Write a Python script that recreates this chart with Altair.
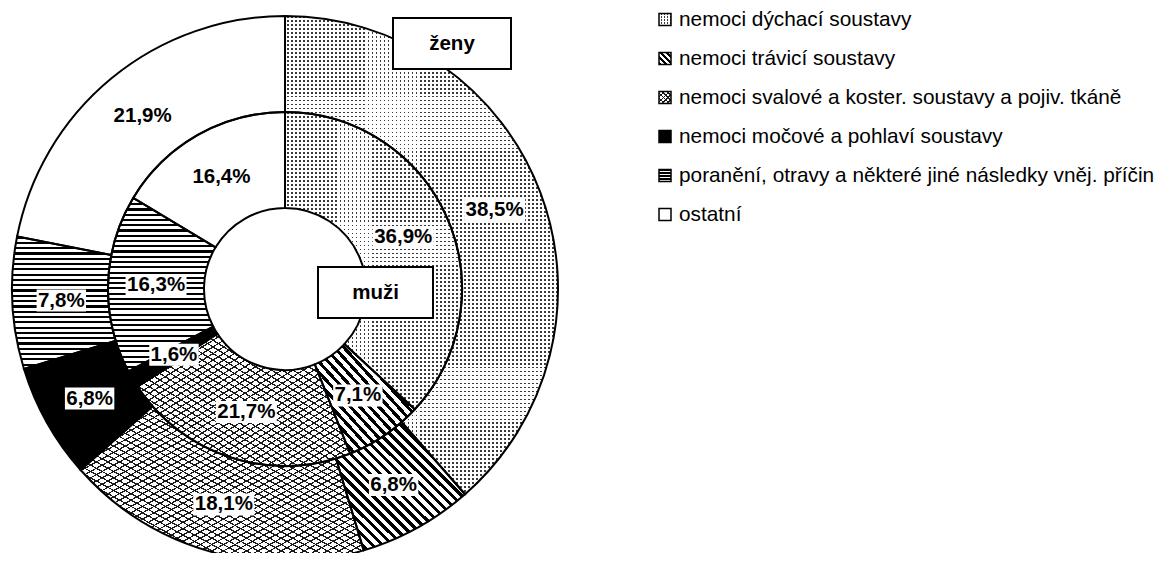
import math
import altair as alt
import pandas as pd

# ---------------- data ----------------
categories = [
    "nemoci dýchací soustavy",
    "nemoci trávicí soustavy",
    "nemoci svalové a koster. soustavy a pojiv. tkáně",
    "nemoci močové a pohlaví soustavy",
    "poranění, otravy a některé jiné následky vněj. příčin",
    "ostatní",
]
zeny = [38.5, 6.8, 18.1, 6.8, 7.8, 21.9]
muzi = [36.9, 7.1, 21.7, 1.6, 16.3, 16.4]
rings = ["ženy", "muži"]

# ---------------- layout ----------------
CX, CY = 277, 281
GEOM = {"ženy": (177, 273, 224), "muži": (81, 177, 129)}  # r0, r1, label radius
FONT = "Liberation Sans"
TR = "rgba(255,255,255,0)"

PATTERNS = [
    [("h", 4.0, 0.45, "#3a3a3a", "white"), ("v", 4.0, 0.55, "white", TR)],
    [("back", 7.0, 0.45, "black", "white")],
    [("slash", 5.6, 0.22, "#1a1a1a", "white"), ("back", 5.6, 0.22, "#1a1a1a", TR)],
    "black",
    [("h", 5.3, 0.4, "black", "white")],
    "white",
]

rows = []
for ring, vals in (("ženy", zeny), ("muži", muzi)):
    for i, (c, v) in enumerate(zip(categories, vals)):
        rows.append({"ring": ring, "cat": c, "order": i, "value": v})
df = pd.DataFrame(rows)


def gradient(spec, w, h):
    kind, spacing, frac, ink, bg = spec
    if kind == "h":
        n = h / spacing
        coords = dict(x1=0, y1=0, x2=0, y2=1)
    elif kind == "v":
        n = w / spacing
        coords = dict(x1=0, y1=0, x2=1, y2=0)
    else:
        n = 2.0 / (spacing * math.sqrt(1.0 / w ** 2 + 1.0 / h ** 2))
        if kind == "slash":
            coords = dict(x1=0, y1=0, x2=1, y2=1)
        else:
            coords = dict(x1=0, y1=1, x2=1, y2=0)
    n = max(1, int(round(n)))
    stops = []
    for k in range(n):
        a = round(k / n, 5)
        b = round((k + frac) / n, 5)
        c = round((k + 1) / n, 5)
        stops += [
            alt.GradientStop(offset=a, color=ink),
            alt.GradientStop(offset=b, color=ink),
            alt.GradientStop(offset=b, color=bg),
            alt.GradientStop(offset=c, color=bg),
        ]
    return alt.LinearGradient(gradient="linear", stops=stops, **coords)


def sector_bbox(a0, a1, r0, r1):
    pts = []
    for a in (a0, a1):
        for r in (r0, r1):
            pts.append((r * math.sin(a), -r * math.cos(a)))
    for k in range(5):
        ang = k * math.pi / 2
        if a0 <= ang <= a1:
            pts.append((r1 * math.sin(ang), -r1 * math.cos(ang)))
    xs = [p[0] for p in pts]
    ys = [p[1] for p in pts]
    return max(max(xs) - min(xs), 1.0), max(max(ys) - min(ys), 1.0)


base = (
    alt.Chart(df)
    .transform_stack(
        stack="value",
        groupby=["ring"],
        as_=["v0", "v1"],
        offset="normalize",
        sort=[alt.SortField("order", order="ascending")],
    )
    .transform_calculate(
        r0="datum.ring == 'ženy' ? 177 : 81",
        r1="datum.ring == 'ženy' ? 273 : 177",
        rl="datum.ring == 'ženy' ? 224 : 129",
    )
)

arc_enc = dict(
    theta=alt.Theta("v0:Q", scale=alt.Scale(domain=[0, 1])),
    theta2="v1:Q",
    radius=alt.Radius("r1:Q", scale=None),
    radius2="r0:Q",
    x=alt.value(CX),
    y=alt.value(CY),
)

layers = []
for ring, vals in (("ženy", zeny), ("muži", muzi)):
    total = sum(vals)
    cum = 0.0
    r0, r1, _ = GEOM[ring]
    for i, v in enumerate(vals):
        a0 = 2 * math.pi * cum / total
        cum += v
        a1 = 2 * math.pi * cum / total
        w, h = sector_bbox(a0, a1, r0, r1)
        pat = PATTERNS[i]
        sub = base.transform_filter(
            (alt.datum.ring == ring) & (alt.datum.order == i)
        )
        if isinstance(pat, str):
            layers.append(sub.mark_arc(fill=pat, strokeWidth=0).encode(**arc_enc))
        else:
            for spec in pat:
                layers.append(
                    sub.mark_arc(fill=gradient(spec, w, h), strokeWidth=0).encode(**arc_enc)
                )

# outlines
layers.append(
    base.mark_arc(fill="white", fillOpacity=0, stroke="black", strokeWidth=2).encode(**arc_enc)
)

# percentage labels
lab = base.transform_calculate(
    mid="PI * (datum.v0 + datum.v1)",
    lx=f"{CX} + datum.rl * sin(datum.mid)",
    ly=f"{CY} - datum.rl * cos(datum.mid)",
    label="replace(format(datum.value, '.1f'), '.', ',') + '%'",
    hw="length(datum.label) * 5.8 + 1.5",
    bx0="datum.lx - datum.hw",
    bx1="datum.lx + datum.hw",
    by0="datum.ly - 11",
    by1="datum.ly + 11",
)
layers.append(
    lab.mark_rect(fill="white").encode(
        x=alt.X("bx0:Q", scale=None, axis=None),
        x2="bx1:Q",
        y=alt.Y("by0:Q", scale=None, axis=None),
        y2="by1:Q",
    )
)
layers.append(
    lab.mark_text(
        font=FONT, fontSize=20.5, fontWeight="bold", color="black",
        align="center", baseline="middle",
    ).encode(
        x=alt.X("lx:Q", scale=None, axis=None),
        y=alt.Y("ly:Q", scale=None, axis=None),
        text="label:N",
    )
)

# ring name boxes
ann = alt.Chart(pd.DataFrame({"ring": rings})).transform_calculate(
    bx0="datum.ring == 'ženy' ? 385 : 310",
    bx1="datum.ring == 'ženy' ? 503 : 425",
    by0="datum.ring == 'ženy' ? 10 : 259",
    by1="datum.ring == 'ženy' ? 61 : 310",
    tx="(datum.bx0 + datum.bx1) / 2",
    ty="(datum.by0 + datum.by1) / 2",
)
layers.append(
    ann.mark_rect(fill="white", stroke="black", strokeWidth=2).encode(
        x=alt.X("bx0:Q", scale=None, axis=None),
        x2="bx1:Q",
        y=alt.Y("by0:Q", scale=None, axis=None),
        y2="by1:Q",
    )
)
layers.append(
    ann.mark_text(
        font=FONT, fontSize=20.5, fontWeight="bold", color="black",
        align="center", baseline="middle",
    ).encode(
        x=alt.X("tx:Q", scale=None, axis=None),
        y=alt.Y("ty:Q", scale=None, axis=None),
        text="ring:N",
    )
)

# legend
leg = alt.Chart(
    pd.DataFrame({"cat": categories, "order": list(range(len(categories)))})
).transform_calculate(
    yc="11.5 + 39 * datum.order",
    iy0="datum.yc - 6",
    iy1="datum.yc + 6",
)
icon_enc = dict(
    x=alt.value(651),
    x2=alt.value(663),
    y=alt.Y("iy0:Q", scale=None, axis=None),
    y2="iy1:Q",
)
LEG_PATTERNS = [
    [("h", 3.0, 0.5, "#3a3a3a", "white"), ("v", 3.0, 0.5, "white", TR)],
    [("back", 4.0, 0.5, "black", "white")],
    [("slash", 3.5, 0.3, "#1a1a1a", "white"), ("back", 3.5, 0.3, "#1a1a1a", TR)],
    "black",
    [("h", 3.0, 0.4, "black", "white")],
    "white",
]
for i, pat in enumerate(LEG_PATTERNS):
    sub = leg.transform_filter(alt.datum.order == i)
    if isinstance(pat, str):
        layers.append(sub.mark_rect(fill=pat).encode(**icon_enc))
    else:
        for spec in pat:
            layers.append(sub.mark_rect(fill=gradient(spec, 12, 12)).encode(**icon_enc))
layers.append(
    leg.mark_rect(fill="white", fillOpacity=0, stroke="black", strokeWidth=1.5).encode(**icon_enc)
)
layers.append(
    leg.mark_text(
        font=FONT, fontSize=20.8, color="black", align="left", baseline="middle",
    ).encode(
        x=alt.value(671),
        y=alt.Y("yc:Q", scale=None, axis=None),
        text="cat:N",
    )
)

chart = (
    alt.layer(*layers)
    .properties(
        width=1152,
        height=545,
        padding=0,
        autosize=alt.AutoSizeParams(type="none"),
    )
    .configure_view(stroke=None)
)

chart.save("out.html", embed_options={"renderer": "svg", "actions": False})
